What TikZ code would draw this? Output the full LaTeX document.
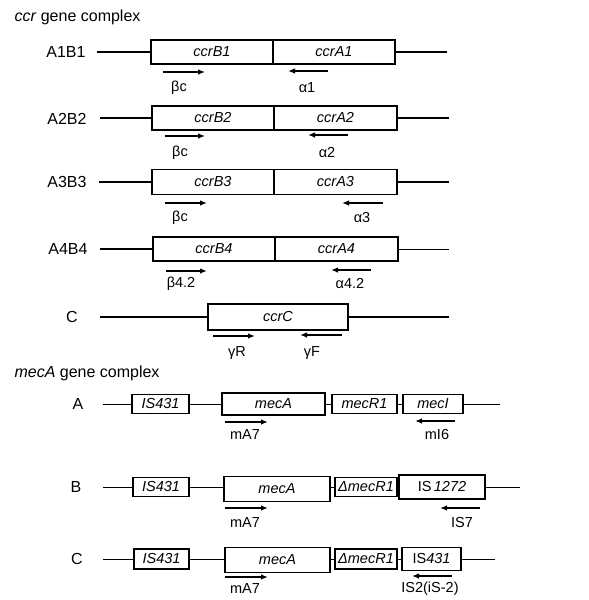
\documentclass[tikz,border=0pt]{standalone}
\usepackage{fontspec}
\setmainfont{Liberation Sans}
\usetikzlibrary{arrows.meta}
\begin{document}
\begin{tikzpicture}[x=1pt,y=-1pt,
 gbox/.style={draw, line width=1.1pt, inner sep=0pt, font=\fontsize{14.5}{16}\selectfont\itshape},
 bb/.style={line width=1.4pt},
 thin/.style={line width=1pt},
 prim/.style={line width=1.3pt, -{Latex[length=7pt,width=5.5pt]}},
 rlab/.style={font=\fontsize{16}{18}\selectfont},
 plab/.style={font=\fontsize{14.5}{16}\selectfont},
 ttl/.style={font=\fontsize{16}{18}\selectfont, anchor=west}]
\useasboundingbox (0,0) rectangle (589,600);

% ---------------- ccr gene complex ----------------
\node[ttl] (t1) at (11,17) {\textit{ccr} gene complex};

% Row A1B1
\node[rlab] (l1) at (66,52) {A1B1};
\coordinate (l1a) at (97,52); \coordinate (l1b) at (447,52);
\node[gbox, minimum width=122pt, minimum height=24pt] (b1) at (212,52) {ccrB1};
\node[gbox, minimum width=122pt, minimum height=24pt] (a1) at (334,52) {ccrA1};
\draw[bb] (l1a) -- (b1.west); \draw[bb] (a1.east) -- (l1b);
\coordinate (p1s) at (163,72); \coordinate (p1e) at (205,72);
\coordinate (q1s) at (328,71); \coordinate (q1e) at (288,71);
\draw[prim] (p1s) -- (p1e); \draw[prim] (q1s) -- (q1e);
\node[plab] (pl1) at (179,88) {βc};
\node[plab] (ql1) at (307,88) {α1};

% Row A2B2
\node[rlab] (l2) at (67,119) {A2B2};
\coordinate (l2a) at (100,118); \coordinate (l2b) at (449,118);
\node[gbox, minimum width=122pt, minimum height=24pt] (b2) at (213,118) {ccrB2};
\node[gbox, minimum width=123pt, minimum height=24pt] (a2) at (335.5,118) {ccrA2};
\draw[bb] (l2a) -- (b2.west); \draw[bb] (a2.east) -- (l2b);
\coordinate (p2s) at (165,136); \coordinate (p2e) at (205,136);
\coordinate (q2s) at (348,135); \coordinate (q2e) at (308,135);
\draw[prim] (p2s) -- (p2e); \draw[prim] (q2s) -- (q2e);
\node[plab] (pl2) at (180,153) {βc};
\node[plab] (ql2) at (327,153) {α2};

% Row A3B3
\node[rlab] (l3) at (67,182) {A3B3};
\coordinate (l3a) at (99,182); \coordinate (l3b) at (449,182);
\node[gbox, minimum width=122pt, minimum height=25pt] (b3) at (213,182) {ccrB3};
\node[gbox, minimum width=123pt, minimum height=25pt] (a3) at (335.5,182) {ccrA3};
\draw[bb] (l3a) -- (b3.west); \draw[bb] (a3.east) -- (l3b);
\coordinate (p3s) at (165,203); \coordinate (p3e) at (207,203);
\coordinate (q3s) at (383,203); \coordinate (q3e) at (342,203);
\draw[prim] (p3s) -- (p3e); \draw[prim] (q3s) -- (q3e);
\node[plab] (pl3) at (180,218) {βc};
\node[plab] (ql3) at (362,218) {α3};

% Row A4B4
\node[rlab] (l4) at (68,249) {A4B4};
\coordinate (l4a) at (100,249); \coordinate (l4b) at (449,249);
\node[gbox, minimum width=122pt, minimum height=24pt] (b4) at (214,249) {ccrB4};
\node[gbox, minimum width=123pt, minimum height=24pt] (a4) at (336.5,249) {ccrA4};
\draw[bb] (l4a) -- (b4.west); \draw[thin] (a4.east) -- (l4b);
\coordinate (p4s) at (166,271); \coordinate (p4e) at (207,271);
\coordinate (q4s) at (371,270); \coordinate (q4e) at (331,270);
\draw[prim] (p4s) -- (p4e); \draw[prim] (q4s) -- (q4e);
\node[plab] (pl4) at (181,284) {β4.2};
\node[plab] (ql4) at (350,284) {α4.2};

% Row C
\node[rlab] (l5) at (72,317) {C};
\coordinate (l5a) at (100,317); \coordinate (l5b) at (449,317);
\node[gbox, minimum width=140pt, minimum height=26pt] (c5) at (278,317) {ccrC};
\draw[bb] (l5a) -- (c5.west); \draw[bb] (c5.east) -- (l5b);
\coordinate (p5s) at (213,336); \coordinate (p5e) at (255,336);
\coordinate (q5s) at (342,335); \coordinate (q5e) at (300,335);
\draw[prim] (p5s) -- (p5e); \draw[prim] (q5s) -- (q5e);
\node[plab] (pl5) at (237,353) {γR};
\node[plab] (ql5) at (312,353) {γF};

% ---------------- mecA gene complex ----------------
\node[ttl] (t2) at (11,373) {\textit{mecA} gene complex};

% Row A
\node[rlab] (m1) at (78,404) {A};
\coordinate (m1a) at (103,404); \coordinate (m1b) at (500,404);
\node[gbox, minimum width=57pt, minimum height=19pt] (i1) at (160.5,404) {IS431};
\node[gbox, minimum width=103pt, minimum height=22pt] (g1) at (273.5,404) {mecA};
\node[gbox, minimum width=65pt, minimum height=19pt] (r1) at (364.5,404) {mecR1};
\node[gbox, minimum width=60pt, minimum height=19pt] (s1) at (433,404) {mecI};
\draw[thin] (m1a) -- (i1.west) (i1.east) -- (g1.west) (g1.east) -- (r1.west)
  (r1.east) -- (s1.west) (s1.east) -- (m1b);
\coordinate (u1s) at (225,422); \coordinate (u1e) at (268,422);
\coordinate (v1s) at (455,421); \coordinate (v1e) at (415,421);
\draw[prim] (u1s) -- (u1e); \draw[prim] (v1s) -- (v1e);
\node[plab] (ul1) at (245,435) {mA7};
\node[plab] (vl1) at (437,435) {mI6};

% Row B
\node[rlab] (m2) at (76,487) {B};
\coordinate (m2a) at (103,487); \coordinate (m2b) at (520,487);
\node[gbox, minimum width=56pt, minimum height=19pt] (i2) at (161,487) {IS431};
\node[gbox, minimum width=106pt, minimum height=25pt] (g2) at (277,489) {mecA};
\node[gbox, minimum width=62pt, minimum height=19pt] (r2) at (366,487) {ΔmecR1};
\node[gbox, minimum width=86pt, minimum height=24pt] (s2) at (442,487) {\upshape IS\,\itshape 1272};
\draw[thin] (m2a) -- (i2.west) (i2.east) -- (g2.west |- m2a) (g2.east |- m2a) -- (r2.west)
  (r2.east) -- (s2.west) (s2.east) -- (m2b);
\coordinate (u2s) at (225,508); \coordinate (u2e) at (268,508);
\coordinate (v2s) at (480,508); \coordinate (v2e) at (440,508);
\draw[prim] (u2s) -- (u2e); \draw[prim] (v2s) -- (v2e);
\node[plab] (ul2) at (245,523) {mA7};
\node[plab] (vl2) at (462,523) {IS7};

% Row C
\node[rlab] (m3) at (77,559) {C};
\coordinate (m3a) at (103,559); \coordinate (m3b) at (495,559);
\node[gbox, minimum width=55pt, minimum height=20pt] (i3) at (161.5,559) {IS431};
\node[gbox, minimum width=105pt, minimum height=25pt] (g3) at (277.5,560) {mecA};
\node[gbox, minimum width=62pt, minimum height=20pt] (r3) at (366,559) {ΔmecR1};
\node[gbox, minimum width=59pt, minimum height=23pt] (s3) at (431.5,559) {\upshape IS\itshape 431};
\draw[thin] (m3a) -- (i3.west) (i3.east) -- (g3.west |- m3a) (g3.east |- m3a) -- (r3.west)
  (r3.east) -- (s3.west) (s3.east) -- (m3b);
\coordinate (u3s) at (225,577); \coordinate (u3e) at (268,577);
\coordinate (v3s) at (452,576); \coordinate (v3e) at (412,576);
\draw[prim] (u3s) -- (u3e); \draw[prim] (v3s) -- (v3e);
\node[plab] (ul3) at (245,589) {mA7};
\node[plab] (vl3) at (430,589) {IS2(iS-2)};
\end{tikzpicture}
\end{document}
